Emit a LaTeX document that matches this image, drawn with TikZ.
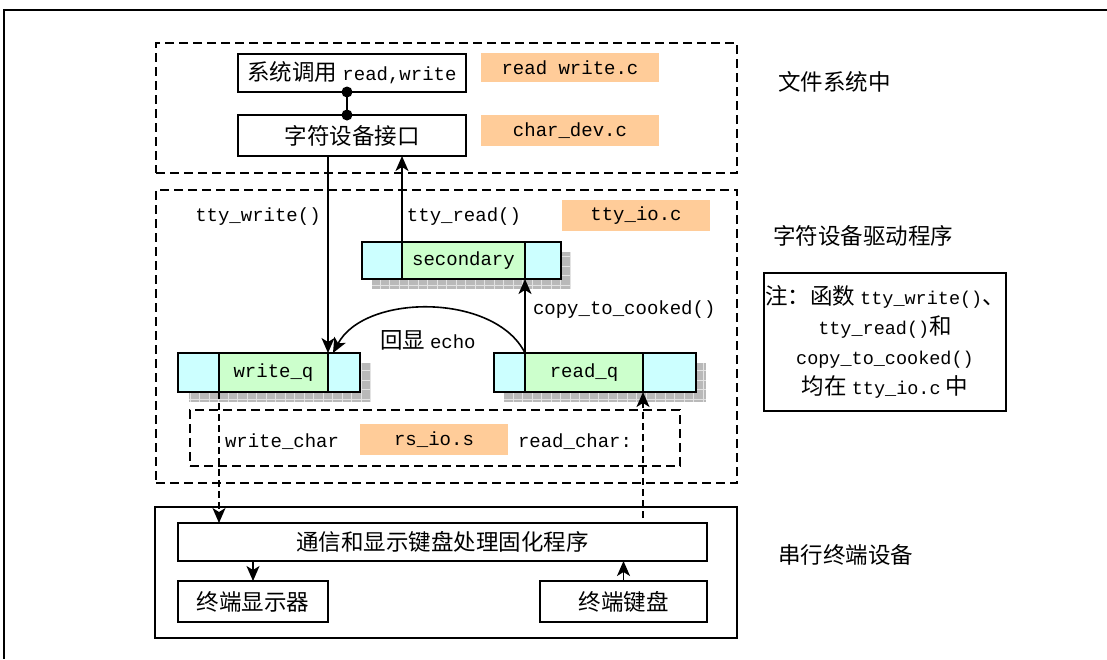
\documentclass[tikz,border=0pt]{standalone}
\usepackage{fontspec}
\setmainfont{Liberation Mono}
\newfontfamily\cjkf{Noto Sans CJK SC}
\newcommand{\zh}[1]{{\cjkf\fontsize{22.5pt}{26pt}\selectfont #1}}
\newcommand{\gp}{\hspace{5pt}}
\usetikzlibrary{arrows.meta}
\definecolor{tagorange}{HTML}{FFCC99}
\definecolor{qcyan}{HTML}{CCFFFF}
\definecolor{qgreen}{HTML}{CCFFCC}
\tikzset{
  box/.style={draw, line width=1.5pt, inner sep=0pt, outer sep=0pt, fill=white},
  dbox/.style={draw, line width=1.5pt, dash pattern=on 9pt off 5pt, inner sep=0pt, outer sep=0pt},
  tag/.style={fill=tagorange, inner sep=0pt, outer sep=0pt},
  qcell/.style={fill=qcyan, inner sep=0pt, outer sep=0pt, minimum height=38pt},
  qmid/.style={draw, line width=1.3pt, fill=qgreen, inner sep=0pt, outer sep=0pt, minimum height=38pt},
  qframe/.style={line width=2.6pt},
  shadowfill/.style={fill=gray!55},
  shadowgrid/.style={draw=gray!22, line width=0.6pt},
  lbl/.style={inner sep=0pt, outer sep=0pt},
  arr/.style={line width=1.6pt, -{Stealth[length=15pt,width=13pt,inset=4pt]}},
  darr/.style={line width=1.5pt, dash pattern=on 7pt off 4pt, -{Stealth[length=15pt,width=13pt,inset=4pt]}},
  link/.style={line width=2.4pt},
  frame/.style={line width=1.8pt}
}
\begin{document}
\begin{tikzpicture}[x=1pt,y=-1pt,font=\fontsize{19pt}{22pt}\selectfont]
\useasboundingbox (0,0) rectangle (1107,659);
% outer frame (top and left only)
\draw[frame] (1107,10) -- (4,10) -- (4,659);

% ---------- file system ----------
\node[dbox, minimum width=581pt, minimum height=130pt] (fs) at (446.5,108) {};
\node[box, minimum width=228pt, minimum height=38pt] (sys) at (352,73) {\zh{系统调用}\gp read,write};
\node[box, minimum width=228pt, minimum height=41pt] (chr) at (352,135.5) {\zh{字符设备接口}};
\node[tag, minimum width=178pt, minimum height=29pt] (rwc) at (570,67.5) {read write.c};
\node[tag, minimum width=178pt, minimum height=31pt] (cdc) at (570,130.5) {char\_dev.c};
\draw[link] ([xshift=-5pt]sys.south) -- ([xshift=-5pt]chr.north);
\fill ([xshift=-5pt]sys.south) circle (5.5pt);
\fill ([xshift=-5pt]chr.north) circle (5.5pt);
\node[lbl, anchor=west] (fslbl) at (778,82) {\zh{文件系统中}};

% ---------- driver ----------
\node[dbox, minimum width=581pt, minimum height=293pt] (drv) at (446.5,336.5) {};
\node[lbl, anchor=west] (drvlbl) at (773,236) {\zh{字符设备驱动程序}};
\node[tag, minimum width=148pt, minimum height=31pt] (ttyio) at (636,215.5) {tty\_io.c};
\node[lbl] (twl) at (258,217) {tty\_write()};
\node[lbl] (trl) at (464,217) {tty\_read()};

% shadows
\fill[shadowfill] (372,252) rectangle (571,289);
\draw[shadowgrid, step=9.5pt] (372,252) grid (571,289);
\fill[shadowfill] (189,363) rectangle (371,402);
\draw[shadowgrid, step=9.5pt] (189,363) grid (371,402);
\fill[shadowfill] (504,363) rectangle (706,402);
\draw[shadowgrid, step=9.5pt] (504,363) grid (706,402);

% secondary queue
\node[qcell, minimum width=199pt, minimum height=37pt] (sec) at (461.5,260.5) {};
\node[qmid, minimum width=123pt, minimum height=37pt] (secm) at (463.5,260.5) {secondary};
\draw[qframe] (sec.north west) rectangle (sec.south east);
% write queue
\node[qcell, minimum width=182pt, minimum height=39pt] (wq) at (269,372.5) {};
\node[qmid, minimum width=109pt, minimum height=39pt] (wqm) at (273.5,372.5) {write\_q};
\draw[qframe] (wq.north west) rectangle (wq.south east);
% read queue
\node[qcell, minimum width=202pt, minimum height=39pt] (rq) at (595,372.5) {};
\node[qmid, minimum width=118pt, minimum height=39pt] (rqm) at (584,372.5) {read\_q};
\draw[qframe] (rq.north west) rectangle (rq.south east);

\node[lbl, anchor=west] (ctc) at (533,310) {copy\_to\_cooked()};
\node[lbl, anchor=west] (echo) at (380,340) {\zh{回显}\gp echo};

% rs_io box
\node[dbox, minimum width=490pt, minimum height=56pt] (rs) at (435,438) {};
\node[tag, minimum width=148pt, minimum height=31pt] (rsio) at (434,439.5) {rs\_io.s};
\node[lbl, anchor=west] (wch) at (225,442) {write\_char};
\node[lbl, anchor=west] (rch) at (518,442) {read\_char:};

% ---------- hardware ----------
\node[box, line width=1.4pt, minimum width=582pt, minimum height=131pt] (hw) at (446,572.5) {};
\node[lbl, anchor=west] (hwlbl) at (778,555) {\zh{串行终端设备}};
\node[box, line width=1.4pt, minimum width=529pt, minimum height=38pt] (comm) at (442.5,542) {\zh{通信和显示键盘处理固化程序}};
\node[box, line width=1.4pt, minimum width=150pt, minimum height=41pt] (disp) at (253,601.5) {\zh{终端显示器}};
\node[box, line width=1.4pt, minimum width=167pt, minimum height=41pt] (kbd) at (623.5,601.5) {\zh{终端键盘}};

% note
\node[box, line width=1.4pt, minimum width=242pt, minimum height=138pt, align=center,
      font=\fontsize{18.5pt}{30pt}\selectfont] (note) at (885,342)
  {\zh{注：函数}\gp tty\_write()\zh{、}\\tty\_read()\zh{和}\\copy\_to\_cooked()\\\zh{均在}\gp tty\_io.c\gp\zh{中}};

% ---------- connectors ----------
\draw[arr] (chr.south -| wqm.north east) -- (wqm.north east);
\draw[arr] (secm.north west) -- (secm.north west |- chr.south);
\draw[arr] (rqm.north west) -- (secm.south east);
\draw[arr] (rqm.north west) .. controls +(-30,-60) and +(32,-60) .. ([xshift=5pt]wqm.north east);
\draw[darr] (wqm.south west) -- (wqm.south west |- comm.north);
\draw[darr, shorten <=5pt] (rqm.south east |- comm.north) -- (rqm.south east);
\draw[arr] (comm.south -| disp.north) -- (disp.north);
\draw[arr] (kbd.north) -- (kbd.north |- comm.south);
\end{tikzpicture}
\end{document}
